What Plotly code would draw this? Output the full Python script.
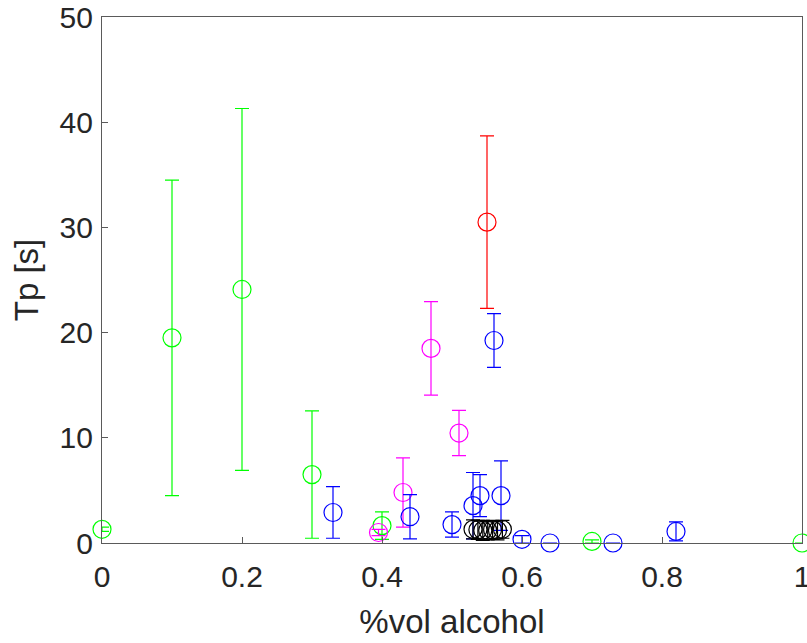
import plotly.graph_objects as go

# green series
green_x = [0.0, 0.1, 0.2, 0.3, 0.4, 0.7, 1.0]
green_y = [1.3, 19.5, 24.1, 6.5, 1.65, 0.15, 0.0]
green_err = [0.2, 15.0, 17.2, 6.05, 1.3, 0.15, 0.0]

# magenta series
magenta_x = [0.395, 0.43, 0.47, 0.51]
magenta_y = [1.0, 4.8, 18.5, 10.45]
magenta_err = [0.3, 3.3, 4.45, 2.15]

# red series
red_x = [0.55]
red_y = [30.5]
red_err = [8.2]

# blue series
blue_x = [0.33, 0.44, 0.50, 0.53, 0.54, 0.56, 0.57, 0.60, 0.64, 0.73, 0.82]
blue_y = [2.9, 2.5, 1.75, 3.55, 4.5, 19.25, 4.5, 0.35, 0.0, 0.0, 1.1]
blue_err = [2.45, 2.1, 1.2, 3.15, 2.0, 2.55, 3.3, 0.35, 0.0, 0.0, 0.9]

# black series
black_x = [0.53, 0.537, 0.544, 0.551, 0.558, 0.565, 0.572]
black_y = [1.3, 1.25, 1.2, 1.2, 1.25, 1.2, 1.3]
black_err = [0.9, 0.9, 0.95, 0.9, 0.9, 0.9, 0.85]

x_ticks = [0, 0.2, 0.4, 0.6, 0.8, 1]
x_ticklabels = ["0", "0.2", "0.4", "0.6", "0.8", "1"]
y_ticks = [0, 10, 20, 30, 40, 50]

series = [
    (green_x, green_y, green_err, "rgb(0,255,0)"),
    (magenta_x, magenta_y, magenta_err, "rgb(255,0,255)"),
    (red_x, red_y, red_err, "rgb(255,0,0)"),
    (blue_x, blue_y, blue_err, "rgb(0,0,255)"),
    (black_x, black_y, black_err, "rgb(0,0,0)"),
]

fig = go.Figure()
for xs, ys, errs, col in series:
    fig.add_trace(go.Scatter(
        x=xs,
        y=ys,
        mode="markers",
        marker=dict(symbol="circle-open", size=18, color=col, line=dict(width=1.2, color=col)),
        error_y=dict(type="data", array=errs, visible=True, color=col, thickness=1.2, width=7),
        cliponaxis=False,
        showlegend=False,
    ))

axis_common = dict(
    showline=True,
    linecolor="#5a5a5a",
    linewidth=1.2,
    mirror=True,
    showgrid=False,
    zeroline=False,
    ticks="inside",
    ticklen=6,
    tickcolor="#5a5a5a",
    automargin=False,
    ticklabeloverflow="allow",
    tickfont=dict(family="Liberation Sans, Arial", size=30, color="#262626"),
)

fig.update_layout(
    width=807,
    height=643,
    plot_bgcolor="white",
    paper_bgcolor="white",
    margin=dict(l=102, r=5, t=17, b=100),
    font=dict(family="Liberation Sans, Arial", color="#262626"),
    xaxis=dict(
        axis_common,
        range=[0, 1],
        tickvals=x_ticks,
        ticktext=x_ticklabels,
        ticklabelstandoff=7,
        title=dict(text="%vol alcohol", font=dict(size=33, color="#262626"), standoff=17),
    ),
    yaxis=dict(
        axis_common,
        range=[0, 50],
        tickvals=y_ticks,
        ticklabelstandoff=2,
        title=dict(text="Tp [s]", font=dict(size=33, color="#262626"), standoff=10),
    ),
)

# drop the browser's default body margin so the figure fills the window
fig.write_html(
    "out.html",
    config={"displayModeBar": False},
    post_script="document.body.style.margin='0';document.body.style.overflow='hidden';",
)
